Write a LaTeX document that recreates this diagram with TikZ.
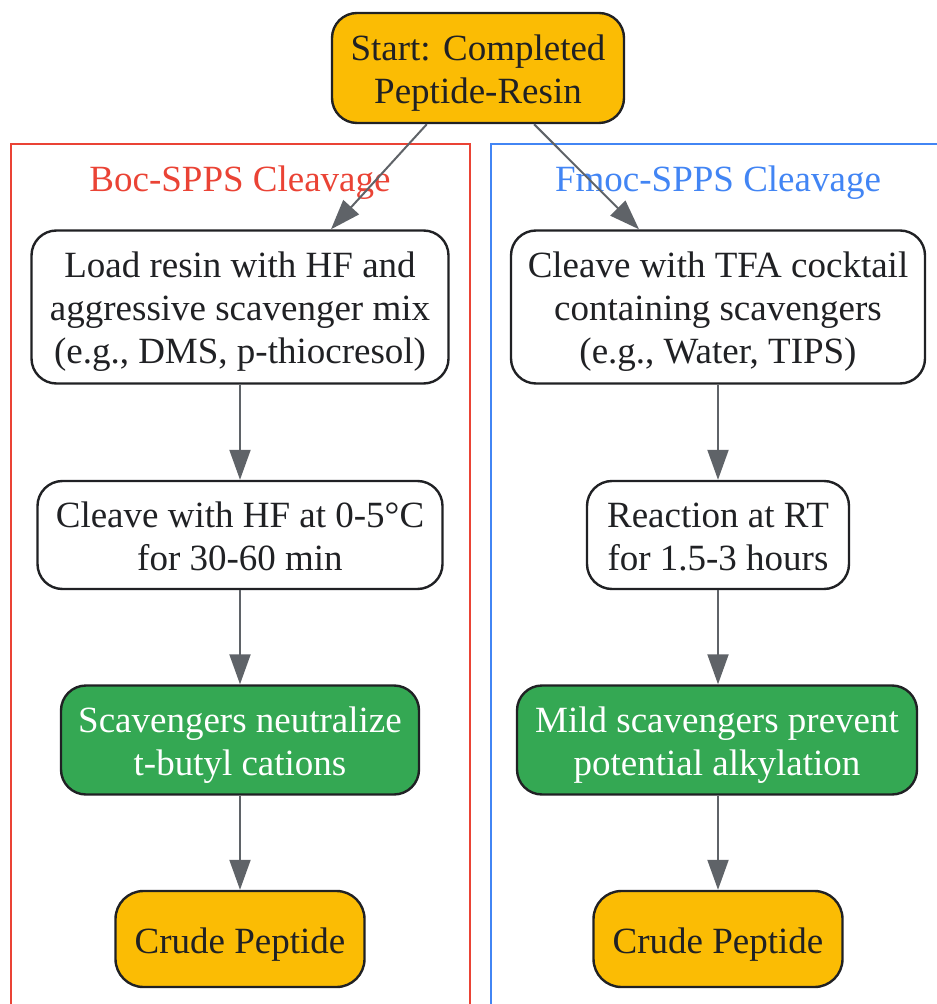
\documentclass[tikz,border=0pt]{standalone}
\usepackage{fontspec}
\setmainfont{Liberation Serif}
\usetikzlibrary{arrows.meta}
\definecolor{gyellow}{HTML}{FBBC04}
\definecolor{ggreen}{HTML}{34A853}
\definecolor{gred}{HTML}{EA4335}
\definecolor{gblue}{HTML}{4285F4}
\definecolor{gedge}{HTML}{5F6368}
\definecolor{gtext}{HTML}{202124}
% struts on first and last line, so text sits as in the source
\newcommand\nodetext[1]{\rule{0pt}{20pt}#1\rule[-6pt]{0pt}{6pt}}
\begin{document}
\begin{tikzpicture}[x=0.5pt,y=-0.5pt,
  font=\fontsize{18.5pt}{21.5pt}\selectfont,
  lines/.style={align=center,inner sep=0pt},
  box/.style={lines,draw=gtext,line width=1.2pt,rounded corners=12.5pt,text=gtext,fill=white},
  startbox/.style={box,fill=gyellow},
  endbox/.style={box,fill=gyellow,rounded corners=14pt},
  keybox/.style={box,fill=ggreen,text=white},
  flow/.style={draw=gedge,line width=1pt,-{Triangle[length=15pt,width=10.5pt]}}]
\useasboundingbox (0,0) rectangle (936,1004);
% clusters
\draw[gred,line width=0.8pt] (11,144) rectangle (470,1012);
\draw[gblue,line width=0.8pt] (491,144) rectangle (952,1012);
\node[lines,text=gred] (boclabel) at (240,178) {\nodetext{Boc-SPPS Cleavage}};
\node[lines,text=gblue] (fmoclabel) at (718,178) {\nodetext{Fmoc-SPPS Cleavage}};
% nodes
\node[startbox,minimum width=146pt,minimum height=55pt] (start) at (478,68) {\nodetext{Start: Completed\\Peptide-Resin}};
\node[box,minimum width=208.5pt,minimum height=76.5pt] (bocload) at (240,307) {\nodetext{Load resin with HF and\\aggressive scavenger mix\\(e.g., DMS, p-thiocresol)}};
\node[box,minimum width=207pt,minimum height=76.5pt] (fmoccleave) at (718,307) {\nodetext{Cleave with TFA cocktail\\containing scavengers\\(e.g., Water, TIPS)}};
\node[box,minimum width=202.5pt,minimum height=54pt] (boccleave) at (240,535) {\nodetext{Cleave with HF at 0-5°C\\for 30-60 min}};
\node[box,minimum width=131pt,minimum height=54pt] (fmocreact) at (718,535) {\nodetext{Reaction at RT\\for 1.5-3 hours}};
\node[keybox,minimum width=179pt,minimum height=54.5pt] (bocscav) at (240,740) {\nodetext{Scavengers neutralize\\t-butyl cations}};
\node[keybox,minimum width=200pt,minimum height=54.5pt] (fmocscav) at (717,740) {\nodetext{Mild scavengers prevent\\potential alkylation}};
\node[endbox,minimum width=124.5pt,minimum height=48pt] (boccrude) at (240,939) {\nodetext{Crude Peptide}};
\node[endbox,minimum width=124.5pt,minimum height=48pt] (fmoccrude) at (718,939) {\nodetext{Crude Peptide}};
% edges
\draw[flow] (start) -- ([xshift=45.5pt]bocload.north);
\draw[flow] (start) -- ([xshift=-39.5pt]fmoccleave.north);
\draw[flow] (bocload) -- (boccleave);
\draw[flow] (boccleave) -- (bocscav);
\draw[flow] (bocscav) -- (boccrude);
\draw[flow] (fmoccleave) -- (fmocreact);
\draw[flow] (fmocreact) -- (fmocscav.north -| fmocreact);
\draw[flow] (fmocscav.south -| fmocreact) -- (fmoccrude);
\end{tikzpicture}
\end{document}
